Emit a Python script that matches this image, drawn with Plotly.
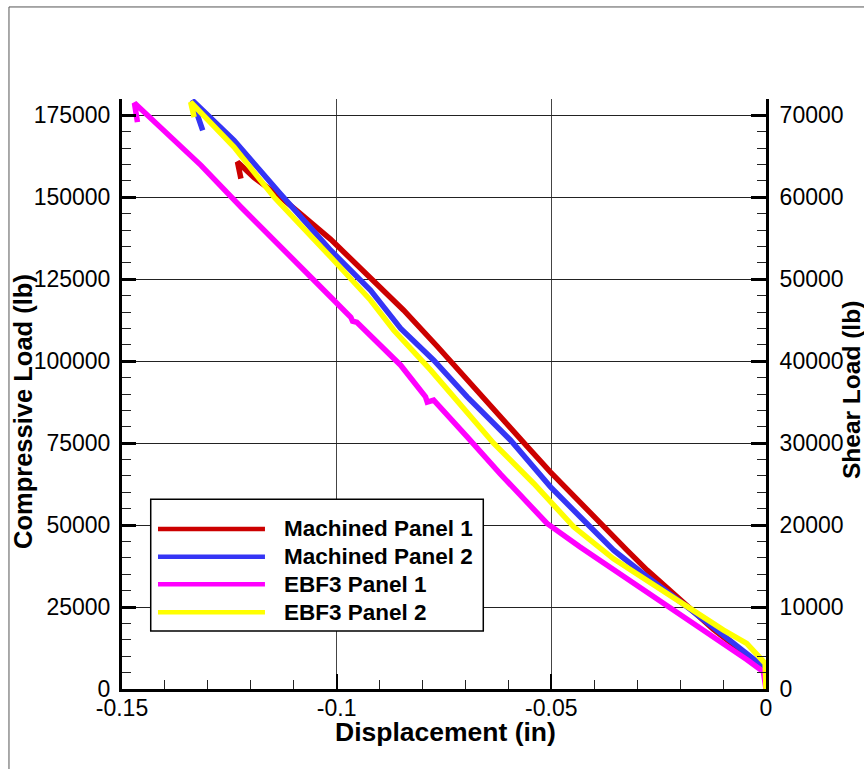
import plotly.graph_objects as go

# Load-displacement curves, loading from the origin up to peak, then post-peak drop
mp1_disp = [0.0, -0.0002, -0.0006, -0.0045, -0.0123, -0.0200, -0.0277, -0.0324, -0.0417,
            -0.0502, -0.0557, -0.0642, -0.0673, -0.0766, -0.0844, -0.0921, -0.0967,
            -0.1014, -0.1084, -0.1130, -0.1193, -0.1231, -0.1223]
mp1_load = [0, 5790, 6800, 10370, 18290, 27130, 36280, 42380, 54570,
            66160, 74090, 86590, 91160, 104570, 115550, 125610, 131560,
            137200, 144970, 150000, 156100, 160760, 155700]

mp2_disp = [0.0, -0.0002, -0.0006, -0.0045, -0.0123, -0.0184, -0.0277, -0.0355, -0.0433,
            -0.0502, -0.0595, -0.0696, -0.0774, -0.0851, -0.0921, -0.1014, -0.1130,
            -0.1239, -0.1336, -0.1312]
mp2_load = [0, 6710, 6800, 10880, 18990, 25090, 34240, 42380, 52530,
            61680, 75910, 89110, 100310, 110000, 121650, 133840, 150920,
            167380, 179580, 170430]

ebf1_disp = [0.0, -0.0006, -0.0045, -0.0123, -0.0200, -0.0277, -0.0355, -0.0433, -0.0510,
             -0.0619, -0.0696, -0.0774, -0.0789, -0.0793, -0.0851, -0.0953, -0.0963,
             -0.0967, -0.1014, -0.1053, -0.1130, -0.1223, -0.1316, -0.1426, -0.1471, -0.1464]
ebf1_load = [0, 5270, 8990, 15850, 22710, 29570, 36100, 43290, 50520,
             65630, 76920, 88110, 87500, 89110, 98790, 111890, 112200,
             113420, 119610, 124700, 134850, 147050, 159760, 172960, 178750, 172960]

ebf2_disp = [0.0, -0.0002, -0.0045, -0.0099, -0.0177, -0.0277, -0.0355, -0.0448, -0.0541,
             -0.0634, -0.0735, -0.0774, -0.0781, -0.0867, -0.0921, -0.1014, -0.1146,
             -0.1239, -0.1340, -0.1332]
ebf2_load = [0, 7840, 13930, 17990, 24600, 33230, 39700, 49480, 62710,
             74910, 90390, 96250, 97260, 109450, 118600, 131800, 150090,
             165330, 179060, 174480]

series_names = ["Machined Panel 1", "Machined Panel 2", "EBF3 Panel 1", "EBF3 Panel 2"]
series_colors = ["#CC0000", "#3535F5", "#FF00FF", "#FFFF00"]

x_tickvals = [-0.15, -0.1, -0.05, 0]
x_ticktext = ["-0.15", "-0.1", "-0.05", "0"]
y_tickvals = [0, 25000, 50000, 75000, 100000, 125000, 150000, 175000]
y_ticktext = ["0", "25000", "50000", "75000", "100000", "125000", "150000", "175000"]
y2_tickvals = [0, 10000, 20000, 30000, 40000, 50000, 60000, 70000]
y2_ticktext = ["0", "10000", "20000", "30000", "40000", "50000", "60000", "70000"]

FONT = "Liberation Sans, Arial, Helvetica, sans-serif"

fig = go.Figure()
data = [(mp1_disp, mp1_load), (mp2_disp, mp2_load), (ebf1_disp, ebf1_load), (ebf2_disp, ebf2_load)]
for (xs, ys), name, color in zip(data, series_names, series_colors):
    fig.add_trace(go.Scatter(x=xs, y=ys, mode="lines", name=name,
                             line=dict(color=color, width=5.5),
                             showlegend=False, hoverinfo="skip"))

# empty trace so the shear-load axis is drawn
fig.add_trace(go.Scatter(x=[None], y=[None], yaxis="y2", showlegend=False, hoverinfo="skip"))

axis_font = dict(family=FONT, size=23, color="black")

fig.update_layout(
    width=864, height=769,
    margin=dict(l=122, r=98, t=99, b=80),
    paper_bgcolor="white", plot_bgcolor="white",
    font=dict(family=FONT, color="black"),
    xaxis=dict(range=[-0.15, 0], tickmode="array", tickvals=x_tickvals, ticktext=x_ticktext,
               tickfont=axis_font, ticks="inside", ticklen=15, tickwidth=2, tickcolor="black",
               showline=True, linewidth=3, linecolor="black", mirror=False,
               showgrid=True, gridcolor="#444444", gridwidth=1, zeroline=False,
               minor=dict(tickmode="linear", tick0=0, dtick=0.01, ticks="inside",
                          ticklen=9, tickwidth=1, tickcolor="#222222", showgrid=False),
               ticklabelstandoff=-4),
    yaxis=dict(range=[0, 180000], tickmode="array", tickvals=y_tickvals, ticktext=y_ticktext,
               tickfont=axis_font, ticks="inside", ticklen=14, tickwidth=3, tickcolor="black",
               showline=True, linewidth=3, linecolor="black", mirror=False,
               showgrid=True, gridcolor="#222222", gridwidth=1, zeroline=False,
               minor=dict(tickmode="linear", tick0=0, dtick=5000, ticks="inside",
                          ticklen=9, tickwidth=1, tickcolor="#222222", showgrid=False),
               ticklabelstandoff=4),
    yaxis2=dict(range=[0, 72000], overlaying="y", side="right", tickmode="array",
                tickvals=y2_tickvals, ticktext=y2_ticktext,
                tickfont=axis_font, ticks="inside", ticklen=15, tickwidth=3, tickcolor="black",
                showline=True, linewidth=3, linecolor="black",
                showgrid=False, zeroline=False,
                minor=dict(tickmode="linear", tick0=0, dtick=2000, ticks="inside",
                           ticklen=9, tickwidth=1, tickcolor="#222222", showgrid=False),
                ticklabelstandoff=6),
)

# axis titles
def title_font(size):
    return dict(family=FONT, size=size, color="black", weight="bold")

fig.add_annotation(text="Displacement (in)", xref="paper", yref="paper", x=0.5016, y=-0.0725,
                   xanchor="center", yanchor="middle", showarrow=False, font=title_font(26.5))
fig.add_annotation(text="Compressive Load (lb)", xref="paper", yref="paper", x=-0.1537, y=0.4695,
                   xanchor="center", yanchor="middle", showarrow=False, textangle=-90,
                   font=title_font(25.5))
fig.add_annotation(text="Shear Load (lb)", xref="paper", yref="paper", x=1.1336, y=0.5068,
                   xanchor="center", yanchor="middle", showarrow=False, textangle=-90,
                   font=title_font(24.5))

# outer frame (left and top edges lie on the page)
fig.add_shape(type="rect", xref="paper", yref="paper", x0=-0.1755, y0=-0.3, x1=1.3, y1=1.156,
              line=dict(color="#555555", width=1), fillcolor="rgba(0,0,0,0)", layer="above")

# legend box
lg_x0, lg_x1, lg_y0, lg_y1 = 0.0446, 0.561, 0.0983, 0.3215
fig.add_shape(type="rect", xref="paper", yref="paper", x0=lg_x0, x1=lg_x1, y0=lg_y0, y1=lg_y1,
              line=dict(color="black", width=1.5), fillcolor="white", layer="above")
row_y = [0.2712, 0.2242, 0.1775, 0.1300]
legend_font = dict(family=FONT, size=22.5, color="black", weight="bold")
for name, color, ry in zip(series_names, series_colors, row_y):
    fig.add_shape(type="line", xref="paper", yref="paper", x0=0.0559, x1=0.2220, y0=ry, y1=ry,
                  line=dict(color=color, width=4.5), layer="above")
    fig.add_annotation(text=name, xref="paper", yref="paper", x=0.248, y=ry,
                       xanchor="left", yanchor="middle", showarrow=False, font=legend_font)

fig.write_html("out.html")
